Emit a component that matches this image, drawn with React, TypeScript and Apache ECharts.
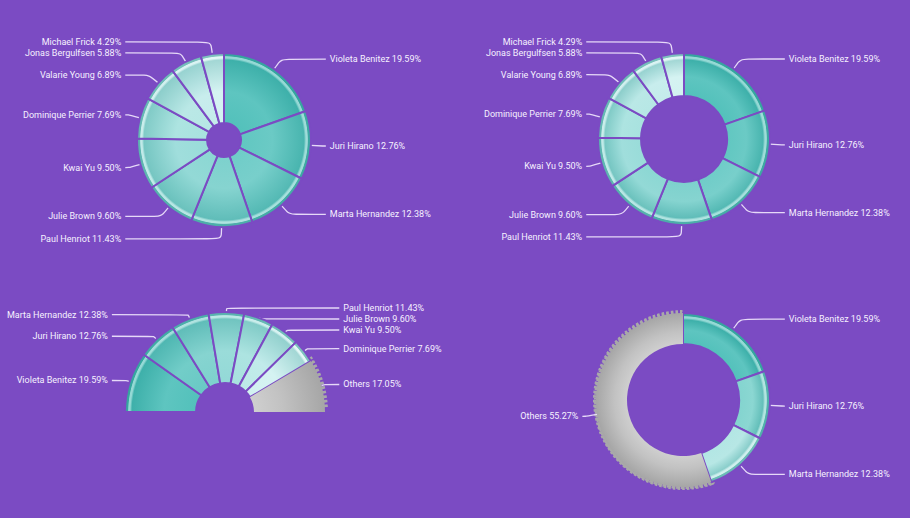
import React, { useEffect, useRef } from 'react';
import * as echarts from 'echarts';

// ---------- data ----------
const namesFull = ['Violeta Benitez', 'Juri Hirano', 'Marta Hernandez', 'Paul Henriot', 'Julie Brown', 'Kwai Yu', 'Dominique Perrier', 'Valarie Young', 'Jonas Bergulfsen', 'Michael Frick'];
const valuesFull = [19.59, 12.76, 12.38, 11.43, 9.6, 9.5, 7.69, 6.89, 5.88, 4.29];

const namesHalf = ['Violeta Benitez', 'Juri Hirano', 'Marta Hernandez', 'Paul Henriot', 'Julie Brown', 'Kwai Yu', 'Dominique Perrier', 'Others'];
const valuesHalf = [19.59, 12.76, 12.38, 11.43, 9.6, 9.5, 7.69, 17.05];

const namesTop3 = ['Violeta Benitez', 'Juri Hirano', 'Marta Hernandez', 'Others'];
const valuesTop3 = [19.59, 12.76, 12.38, 55.27];

// ---------- styles ----------
const BG = '#7b4bc3';
const TEAL_DARK = '#48bdb7';
const TEAL_LIGHT = '#cff1f0';
const GRAY = '#c2c2c2';
const EDGE = '#1f8a84';
const FONT = "Roboto, 'Noto Sans', sans-serif";

function hexToRgb(h: string) {
  const s = h.replace('#', '');
  return [parseInt(s.slice(0, 2), 16), parseInt(s.slice(2, 4), 16), parseInt(s.slice(4, 6), 16)];
}
function mix(a: string, b: string, t: number) {
  const A = hexToRgb(a);
  const B = hexToRgb(b);
  const c = A.map((v, i) => Math.round(v + (B[i] - v) * t));
  return '#' + c.map((v) => v.toString(16).padStart(2, '0')).join('');
}

function fill(base: string, cx: number, cy: number, r0: number, R: number, teal: boolean) {
  const f = (px: number) => Math.max(0, Math.min(1, px / R));
  const stops = teal
    ? [
        { offset: 0, color: mix(base, '#ffffff', 0.08) },
        { offset: f(r0), color: mix(base, '#ffffff', 0.06) },
        { offset: f(r0 + (R - r0) * 0.45), color: mix(base, '#ffffff', 0.12) },
        { offset: f(R - 7), color: mix(base, EDGE, 0.25) },
        { offset: f(R - 5), color: mix(base, '#ffffff', 0.42) },
        { offset: f(R - 3.6), color: mix(base, '#ffffff', 0.42) },
        { offset: f(R - 2.8), color: mix(base, EDGE, 0.45) },
        { offset: 1, color: mix(base, EDGE, 0.5) },
      ]
    : [
        { offset: 0, color: '#d2d2d2' },
        { offset: f(r0), color: '#cfcfcf' },
        { offset: f(r0 + (R - r0) * 0.4), color: GRAY },
        { offset: 1, color: '#a6a6a6' },
      ];
  return new echarts.graphic.RadialGradient(cx, cy, R, stops, true);
}

function buildData(names: string[], values: number[], cx: number, cy: number, r0: number, R: number, lightEnd: number) {
  const tealCount = names.filter((n) => n !== 'Others').length;
  return names.map((name, i) => {
    const isOther = name === 'Others';
    const t = tealCount > 1 ? (i / (tealCount - 1)) * lightEnd : 0;
    const base = isOther ? GRAY : mix(TEAL_DARK, TEAL_LIGHT, t);
    const itemStyle: any = { color: fill(base, cx, cy, r0, R, !isOther) };
    if (isOther) itemStyle.borderWidth = 0;
    return { name, value: values[i], itemStyle };
  });
}

function pieSeries(names: string[], values: number[], cx: number, cy: number, r0: number, R: number, o: any) {
  return {
    type: 'pie',
    center: [cx, cy],
    radius: [r0, R],
    startAngle: o.start ?? 90,
    endAngle: o.end ?? 'auto',
    clockwise: true,
    z: 2,
    avoidLabelOverlap: true,
    emphasis: { disabled: true },
    itemStyle: { borderColor: BG, borderWidth: 2 },
    label: {
      show: true,
      alignTo: 'labelLine',
      color: '#f6f1ff',
      fontSize: 9,
      fontFamily: FONT,
      width: 160,
      overflow: 'none',
      distanceToLabelLine: 4,
      formatter: (p: any) => `${p.name} ${Number(p.value).toFixed(2)}%`,
    },
    labelLine: {
      show: true,
      length: o.len ?? 12,
      length2: o.len2 ?? 3,
      smooth: 0.25,
      lineStyle: { color: '#e6d9f8', width: 1.3 },
    },
    data: buildData(names, values, cx, cy, r0, R, o.lightEnd ?? 1),
  };
}

function teethSeries(names: string[], values: number[], cx: number, cy: number, R: number, o: any) {
  return {
    type: 'pie',
    center: [cx, cy],
    radius: [R - 1.5, R - 0.5],
    startAngle: o.start ?? 90,
    endAngle: o.end ?? 'auto',
    clockwise: true,
    z: 1,
    silent: true,
    emphasis: { disabled: true },
    label: { show: false },
    labelLine: { show: false },
    data: names.map((name, i) => ({
      name,
      value: values[i],
      itemStyle:
        name === 'Others'
          ? { color: '#a9a9a9', borderColor: '#a9a9a9', borderWidth: 7, borderType: [2.5, 2] }
          : { color: 'rgba(0,0,0,0)', borderWidth: 0 },
    })),
  };
}

export default function App() {
  const ref = useRef<HTMLDivElement>(null);
  useEffect(() => {
    if (!ref.current) return;
    const chart = echarts.init(ref.current, undefined, { renderer: 'svg' });
    chart.setOption({
      animation: false,
      backgroundColor: BG,
      series: [
        pieSeries(namesFull, valuesFull, 224, 140, 17, 87, {}),
        pieSeries(namesFull, valuesFull, 684, 139, 43, 86, {}),
        teethSeries(namesHalf, valuesHalf, 225, 412, 100, { start: 180, end: 2.5 }),
        pieSeries(namesHalf, valuesHalf, 225, 412, 29, 100, { start: 180, end: 0, len: 4, len2: 14 }),
        teethSeries(namesTop3, valuesTop3, 683, 400, 87, {}),
        pieSeries(namesTop3, valuesTop3, 683, 400, 56, 87, { lightEnd: 0.75 }),
      ],
    });
    return () => chart.dispose();
  }, []);
  return <div ref={ref} style={{ position: 'absolute', left: 0, top: 0, width: 910, height: 518 }} />;
}
